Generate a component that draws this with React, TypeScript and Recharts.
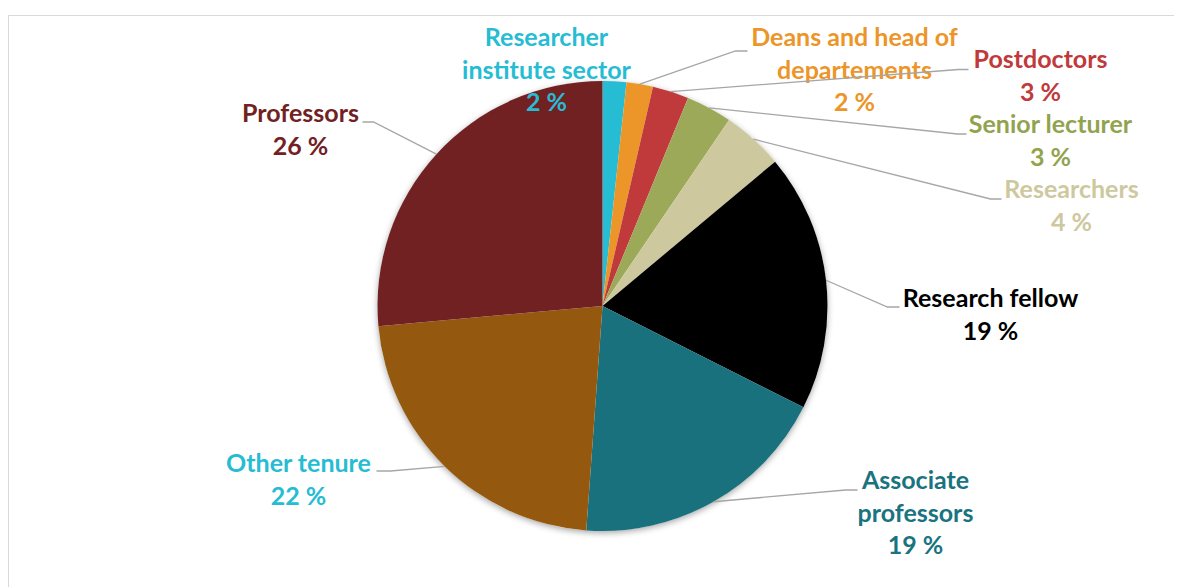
import { Cell, Pie, PieChart } from "recharts";

// share of staff by position, percent
const CATEGORIES = [
  "Researcher\ninstitute sector",
  "Deans and head of\ndepartements",
  "Postdoctors",
  "Senior lecturer",
  "Researchers",
  "Research fellow",
  "Associate\nprofessors",
  "Other tenure",
  "Professors",
];
const SHARES = [1.7, 1.9, 2.6, 3.3, 4.4, 18.5, 18.7, 22.4, 26.4];

const SLICE_COLORS = [
  "#26BCD3",
  "#EC9528",
  "#C0393B",
  "#9BA958",
  "#CEC89E",
  "#000000",
  "#19717E",
  "#94590E",
  "#722123",
];
const TEXT_COLORS = [
  "#26BCD3",
  "#EC9528",
  "#C0393B",
  "#92A34F",
  "#CEC89E",
  "#000000",
  "#1A7380",
  "#26BCD3",
  "#722123",
];

// hand-placed label boxes, relative to the pie centre: text centre x, first baseline y,
// and the leader line's elbow / end points (null = no leader)
type LabelPos = { tx: number; ty: number; elbow: [number, number] | null; end: [number, number] | null };
const LABEL_POS: LabelPos[] = [
  { tx: -56, ty: -260, elbow: null, end: null },
  { tx: 252, ty: -260, elbow: [133, -255], end: [145, -255] },
  { tx: 438, ty: -238, elbow: [356, -236.5], end: [366, -236.5] },
  { tx: 448, ty: -173, elbow: [355, -172], end: [364, -172] },
  { tx: 469, ty: -108, elbow: [388, -107], end: [399, -107] },
  { tx: 388, ty: 1, elbow: [285, 1], end: [297, 1] },
  { tx: 313, ty: 183, elbow: [243, 184], end: [255, 184] },
  { tx: -304, ty: 166, elbow: [-212, 165], end: [-226, 165] },
  { tx: -302, ty: -184, elbow: [-229, -184], end: [-240, -184] },
];

const data = CATEGORIES.map((name, i) => ({ name, value: SHARES[i] }));

const RADIAN = Math.PI / 180;
// recharts adds its 5px default margin to numeric cx / cy
const CX = 589.5;
const CY = 293;
const R = 225;
const FONT = "Lato, 'Open Sans', sans-serif";

function renderLabel(props: any) {
  const { cx, cy, midAngle, outerRadius, index } = props;
  const pos = LABEL_POS[index];
  const lines = CATEGORIES[index].split("\n");
  lines.push(`${Math.round(SHARES[index])} %`);
  const ex = cx + outerRadius * Math.cos(-midAngle * RADIAN);
  const ey = cy + outerRadius * Math.sin(-midAngle * RADIAN);
  return (
    <g key={`lbl-${index}`}>
      {pos.elbow && pos.end && (
        <polyline
          points={`${ex},${ey} ${cx + pos.elbow[0]},${cy + pos.elbow[1]} ${cx + pos.end[0]},${cy + pos.end[1]}`}
          fill="none"
          stroke="#A6A6A6"
          strokeWidth={1.3}
        />
      )}
      <text
        x={cx + pos.tx}
        y={cy + pos.ty}
        textAnchor="middle"
        fill={TEXT_COLORS[index]}
        fontFamily={FONT}
        fontWeight={700}
        fontSize={25}
      >
        {lines.map((ln, k) => (
          <tspan key={k} x={cx + pos.tx} dy={k === 0 ? 0 : 32.5}>
            {ln}
          </tspan>
        ))}
      </text>
    </g>
  );
}

export default function App() {
  return (
    <div style={{ position: "relative", width: 1174, height: 579, overflow: "hidden" }}>
      <style>{"body { overflow: hidden; }"}</style>
      <div
        style={{
          position: "absolute",
          left: 0,
          top: 7,
          width: 1300,
          height: 700,
          border: "1px solid #D9D9D9",
          boxSizing: "border-box",
        }}
      />
      <div style={{ position: "absolute", left: 0, top: 0 }}>
        <PieChart width={1174} height={579}>
          <Pie
            data={[{ name: "shadow", value: 1 }]}
            dataKey="value"
            cx={CX}
            cy={CY}
            outerRadius={R}
            stroke="none"
            isAnimationActive={false}
          >
            <Cell fill="#ffffff" style={{ filter: "drop-shadow(0px 2px 3px rgba(0,0,0,0.35))" }} />
          </Pie>
          <Pie
            data={data}
            dataKey="value"
            nameKey="name"
            cx={CX}
            cy={CY}
            outerRadius={R}
            startAngle={90}
            endAngle={-270}
            stroke="none"
            labelLine={false}
            label={renderLabel}
            isAnimationActive={false}
          >
            {data.map((d, i) => (
              <Cell key={d.name} fill={SLICE_COLORS[i]} />
            ))}
          </Pie>
        </PieChart>
      </div>
    </div>
  );
}
